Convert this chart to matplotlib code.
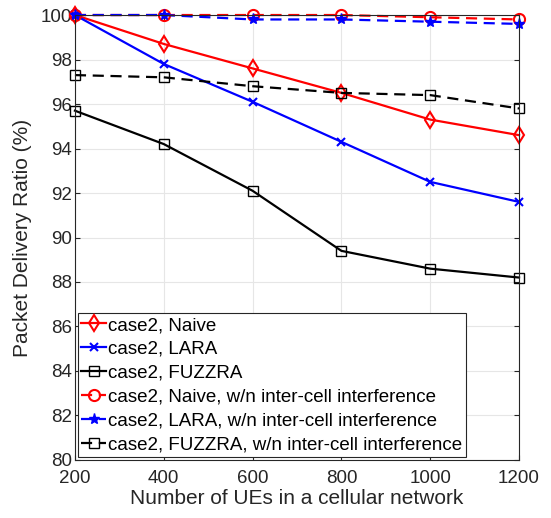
import numpy as np
import matplotlib
matplotlib.use("Agg")
import matplotlib.pyplot as plt

plt.rcParams["font.family"] = ["Liberation Sans", "DejaVu Sans"]

ues = [200, 400, 600, 800, 1000, 1200]
naive = [100, 98.7, 97.6, 96.5, 95.3, 94.6]
lara = [100, 97.8, 96.1, 94.3, 92.5, 91.6]
fuzzra = [95.7, 94.2, 92.1, 89.4, 88.6, 88.2]
naive_wn = [100, 100, 100, 100, 99.9, 99.8]
lara_wn = [100, 100, 99.8, 99.8, 99.7, 99.6]
fuzzra_wn = [97.3, 97.2, 96.8, 96.5, 96.4, 95.8]

fig = plt.figure(figsize=(5.51, 5.18), dpi=100)
ax = fig.add_axes([0.136, 0.112, 0.806, 0.859])

lw = 1.6
dash = (5, 3)
ax.plot(ues, naive, "r-", marker="d", mfc="none", ms=8, mew=1.5, lw=lw, clip_on=False,
        label="case2, Naive")
ax.plot(ues, lara, "b-", marker="x", ms=6, mew=1.5, lw=lw, clip_on=False,
        label="case2, LARA")
ax.plot(ues, fuzzra, "k-", marker="s", mfc="none", ms=6.5, mew=1.0, lw=lw, clip_on=False,
        label="case2, FUZZRA")
ax.plot(ues, naive_wn, "r--", dashes=dash, marker="o", mfc="none", ms=8, mew=1.5, lw=lw,
        clip_on=False, label="case2, Naive, w/n inter-cell interference")
ax.plot(ues, lara_wn, "b--", dashes=dash, marker="*", ms=8, mew=1.0, lw=lw,
        clip_on=False, label="case2, LARA, w/n inter-cell interference")
ax.plot(ues, fuzzra_wn, "k--", dashes=dash, marker="s", mfc="none", ms=6.5, mew=1.0, lw=lw,
        clip_on=False, label="case2, FUZZRA, w/n inter-cell interference")

ax.set_xlim(200, 1200)
ax.set_ylim(80, 100)
ax.set_xticks(ues)
ax.set_yticks(np.arange(80, 101, 2))
ax.tick_params(axis="both", direction="in", labelsize=13.5, colors="#262626",
               top=True, right=True)
ax.tick_params(axis="x", pad=7)
ax.tick_params(axis="y", pad=2)
ax.grid(True, color="#e6e6e6", linewidth=0.8)
for s in ax.spines.values():
    s.set_color("#262626")
    s.set_linewidth(0.8)

ax.set_xlabel("Number of UEs in a cellular network", fontsize=15, color="#262626",
              labelpad=2)
ax.set_ylabel("Packet Delivery Ratio (%)", fontsize=15, color="#262626", labelpad=6)

leg = ax.legend(loc="lower left", fontsize=13.5, handlelength=1.3, handletextpad=0.1,
                borderpad=0.2, labelspacing=0.36, borderaxespad=0.15, fancybox=False,
                edgecolor="#262626", framealpha=1)
leg.get_frame().set_linewidth(0.8)

fig.savefig("out.png", dpi=100)
